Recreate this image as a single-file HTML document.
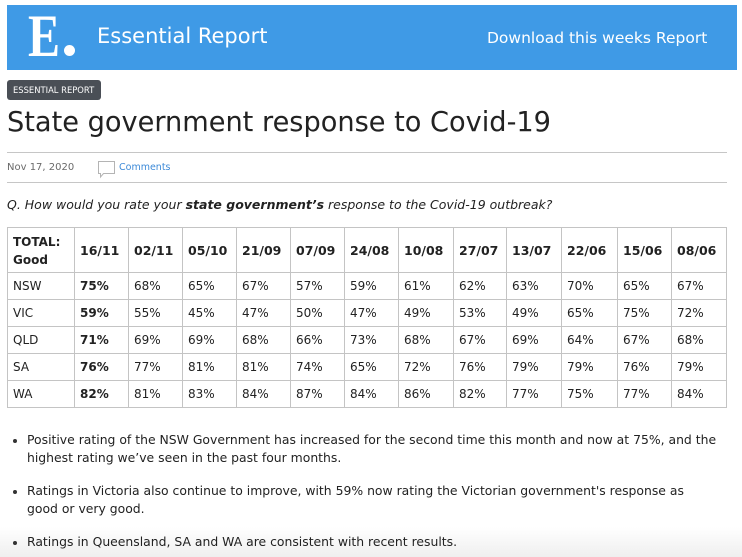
<!DOCTYPE html>
<html>
<head>
<meta charset="utf-8">
<style>
  html,body{margin:0;padding:0;}
  body{width:742px;height:557px;position:relative;overflow:hidden;background:#fff;
       font-family:"DejaVu Sans","Liberation Sans",sans-serif;color:#222;}
  .abs{position:absolute;white-space:nowrap;}
  .banner{position:absolute;left:7px;top:5px;width:730px;height:65px;background:#3f9ae6;}
  .hl{position:absolute;height:1px;background:#c6c6c6;}
  .vl{position:absolute;width:1px;background:#c4c4c4;}
  .row{position:absolute;left:7px;display:flex;font-size:12px;}
  .row div{padding-left:6px;box-sizing:border-box;white-space:nowrap;}
  .hdr div{font-weight:bold;font-size:12.5px;}
  .b{font-weight:bold;}
  .dot{position:absolute;width:4px;height:4px;border-radius:2px;background:#333;}
  .bt{position:absolute;white-space:nowrap;left:27px;font-size:12.4px;line-height:14px;}
  .fade{position:absolute;left:0;top:527px;width:742px;height:30px;
        background:linear-gradient(to bottom,rgba(240,240,240,0),#efefef);}
</style>
</head>
<body>

<div class="banner"></div>
<div class="abs" style="left:28px;top:6px;font-family:'Liberation Serif',serif;font-weight:bold;font-size:60px;line-height:60px;color:#fff;transform:scaleX(0.8);transform-origin:left top;">E</div>
<div class="abs" style="left:64px;top:45px;width:11px;height:11px;border-radius:6px;background:#fff;"></div>
<div class="abs" style="left:97px;top:25px;font-size:21px;line-height:22px;color:#fff;">Essential Report</div>
<div class="abs" style="left:487px;top:30px;font-size:15.5px;line-height:16px;color:#fff;">Download this weeks Report</div>

<div class="abs" style="left:7px;top:80px;width:94px;height:20px;border-radius:3px;background:#4a4f56;"></div>
<div class="abs" style="left:13px;top:84.7px;font-size:8.4px;line-height:10px;color:#fff;">ESSENTIAL REPORT</div>

<div class="abs" style="left:7px;top:108px;font-size:27.2px;line-height:30px;color:#222;">State government response to Covid‑19</div>

<div class="hl" style="left:7px;top:152px;width:720px;"></div>
<div class="abs" style="left:7px;top:161.5px;font-size:10px;line-height:12px;color:#6a6a6a;">Nov 17, 2020</div>
<svg class="abs" style="left:0;top:0;" width="742" height="200">
  <path d="M98.5 161.5 H114.5 V173.5 H103.5 L100.5 177 V173.5 H98.5 Z" fill="none" stroke="#b4b4b4" stroke-width="1"/>
</svg>
<div class="abs" style="left:119px;top:161.5px;font-size:9.5px;line-height:12px;color:#3d8ad8;">Comments</div>
<div class="hl" style="left:7px;top:182px;width:720px;"></div>

<div class="abs" style="left:7px;top:198px;font-size:12.5px;line-height:14px;font-style:italic;color:#222;">Q. How would you rate your <b>state government’s</b> response to the Covid‑19 outbreak?</div>

<!-- table grid -->
<div class="hl" style="left:7px;top:227px;width:720px;background:#c4c4c4;"></div>
<div class="hl" style="left:7px;top:272px;width:720px;background:#c4c4c4;"></div>
<div class="hl" style="left:7px;top:299px;width:720px;background:#c4c4c4;"></div>
<div class="hl" style="left:7px;top:326px;width:720px;background:#c4c4c4;"></div>
<div class="hl" style="left:7px;top:353px;width:720px;background:#c4c4c4;"></div>
<div class="hl" style="left:7px;top:380px;width:720px;background:#c4c4c4;"></div>
<div class="hl" style="left:7px;top:407px;width:720px;background:#c4c4c4;"></div>

<div class="vl" style="left:7px;top:227px;height:181px;"></div>
<div class="vl" style="left:74px;top:227px;height:181px;"></div>
<div class="vl" style="left:128px;top:227px;height:181px;"></div>
<div class="vl" style="left:182px;top:227px;height:181px;"></div>
<div class="vl" style="left:236px;top:227px;height:181px;"></div>
<div class="vl" style="left:290px;top:227px;height:181px;"></div>
<div class="vl" style="left:344px;top:227px;height:181px;"></div>
<div class="vl" style="left:398px;top:227px;height:181px;"></div>
<div class="vl" style="left:453px;top:227px;height:181px;"></div>
<div class="vl" style="left:506px;top:227px;height:181px;"></div>
<div class="vl" style="left:561px;top:227px;height:181px;"></div>
<div class="vl" style="left:617px;top:227px;height:181px;"></div>
<div class="vl" style="left:671px;top:227px;height:181px;"></div>
<div class="vl" style="left:726px;top:227px;height:181px;"></div>

<!-- header -->
<div class="abs b" style="left:13px;top:233px;font-size:12px;line-height:18px;">TOTAL:<br>Good</div>
<div class="row hdr" style="top:243px;line-height:15px;left:74px;">
  <div style="width:54px">16/11</div><div style="width:54px">02/11</div><div style="width:54px">05/10</div>
  <div style="width:54px">21/09</div><div style="width:54px">07/09</div><div style="width:54px">24/08</div>
  <div style="width:55px">10/08</div><div style="width:53px">27/07</div><div style="width:55px">13/07</div>
  <div style="width:56px">22/06</div><div style="width:54px">15/06</div><div style="width:55px">08/06</div>
</div>

<div class="row" style="top:278.5px;line-height:14px;">
  <div style="width:67px">NSW</div><div class="b" style="width:54px">75%</div><div style="width:54px">68%</div><div style="width:54px">65%</div>
  <div style="width:54px">67%</div><div style="width:54px">57%</div><div style="width:54px">59%</div><div style="width:55px">61%</div>
  <div style="width:53px">62%</div><div style="width:55px">63%</div><div style="width:56px">70%</div><div style="width:54px">65%</div><div style="width:55px">67%</div>
</div>
<div class="row" style="top:305.5px;line-height:14px;">
  <div style="width:67px">VIC</div><div class="b" style="width:54px">59%</div><div style="width:54px">55%</div><div style="width:54px">45%</div>
  <div style="width:54px">47%</div><div style="width:54px">50%</div><div style="width:54px">47%</div><div style="width:55px">49%</div>
  <div style="width:53px">53%</div><div style="width:55px">49%</div><div style="width:56px">65%</div><div style="width:54px">75%</div><div style="width:55px">72%</div>
</div>
<div class="row" style="top:332.5px;line-height:14px;">
  <div style="width:67px">QLD</div><div class="b" style="width:54px">71%</div><div style="width:54px">69%</div><div style="width:54px">69%</div>
  <div style="width:54px">68%</div><div style="width:54px">66%</div><div style="width:54px">73%</div><div style="width:55px">68%</div>
  <div style="width:53px">67%</div><div style="width:55px">69%</div><div style="width:56px">64%</div><div style="width:54px">67%</div><div style="width:55px">68%</div>
</div>
<div class="row" style="top:359.5px;line-height:14px;">
  <div style="width:67px">SA</div><div class="b" style="width:54px">76%</div><div style="width:54px">77%</div><div style="width:54px">81%</div>
  <div style="width:54px">81%</div><div style="width:54px">74%</div><div style="width:54px">65%</div><div style="width:55px">72%</div>
  <div style="width:53px">76%</div><div style="width:55px">79%</div><div style="width:56px">79%</div><div style="width:54px">76%</div><div style="width:55px">79%</div>
</div>
<div class="row" style="top:386.5px;line-height:14px;">
  <div style="width:67px">WA</div><div class="b" style="width:54px">82%</div><div style="width:54px">81%</div><div style="width:54px">83%</div>
  <div style="width:54px">84%</div><div style="width:54px">87%</div><div style="width:54px">84%</div><div style="width:55px">86%</div>
  <div style="width:53px">82%</div><div style="width:55px">77%</div><div style="width:56px">75%</div><div style="width:54px">77%</div><div style="width:55px">84%</div>
</div>

<!-- bullets -->
<div class="dot" style="left:13px;top:439px;"></div>
<div class="bt" style="top:433px;">Positive rating of the NSW Government has increased for the second time this month and now at 75%, and the</div>
<div class="bt" style="top:450.5px;">highest rating we’ve seen in the past four months.</div>

<div class="dot" style="left:13px;top:490px;"></div>
<div class="bt" style="top:484px;">Ratings in Victoria also continue to improve, with 59% now rating the Victorian government's response as</div>
<div class="bt" style="top:501.5px;">good or very good.</div>

<div class="fade"></div>
<div class="dot" style="left:13px;top:541px;"></div>
<div class="bt" style="top:535px;">Ratings in Queensland, SA and WA are consistent with recent results.</div>

</body>
</html>
